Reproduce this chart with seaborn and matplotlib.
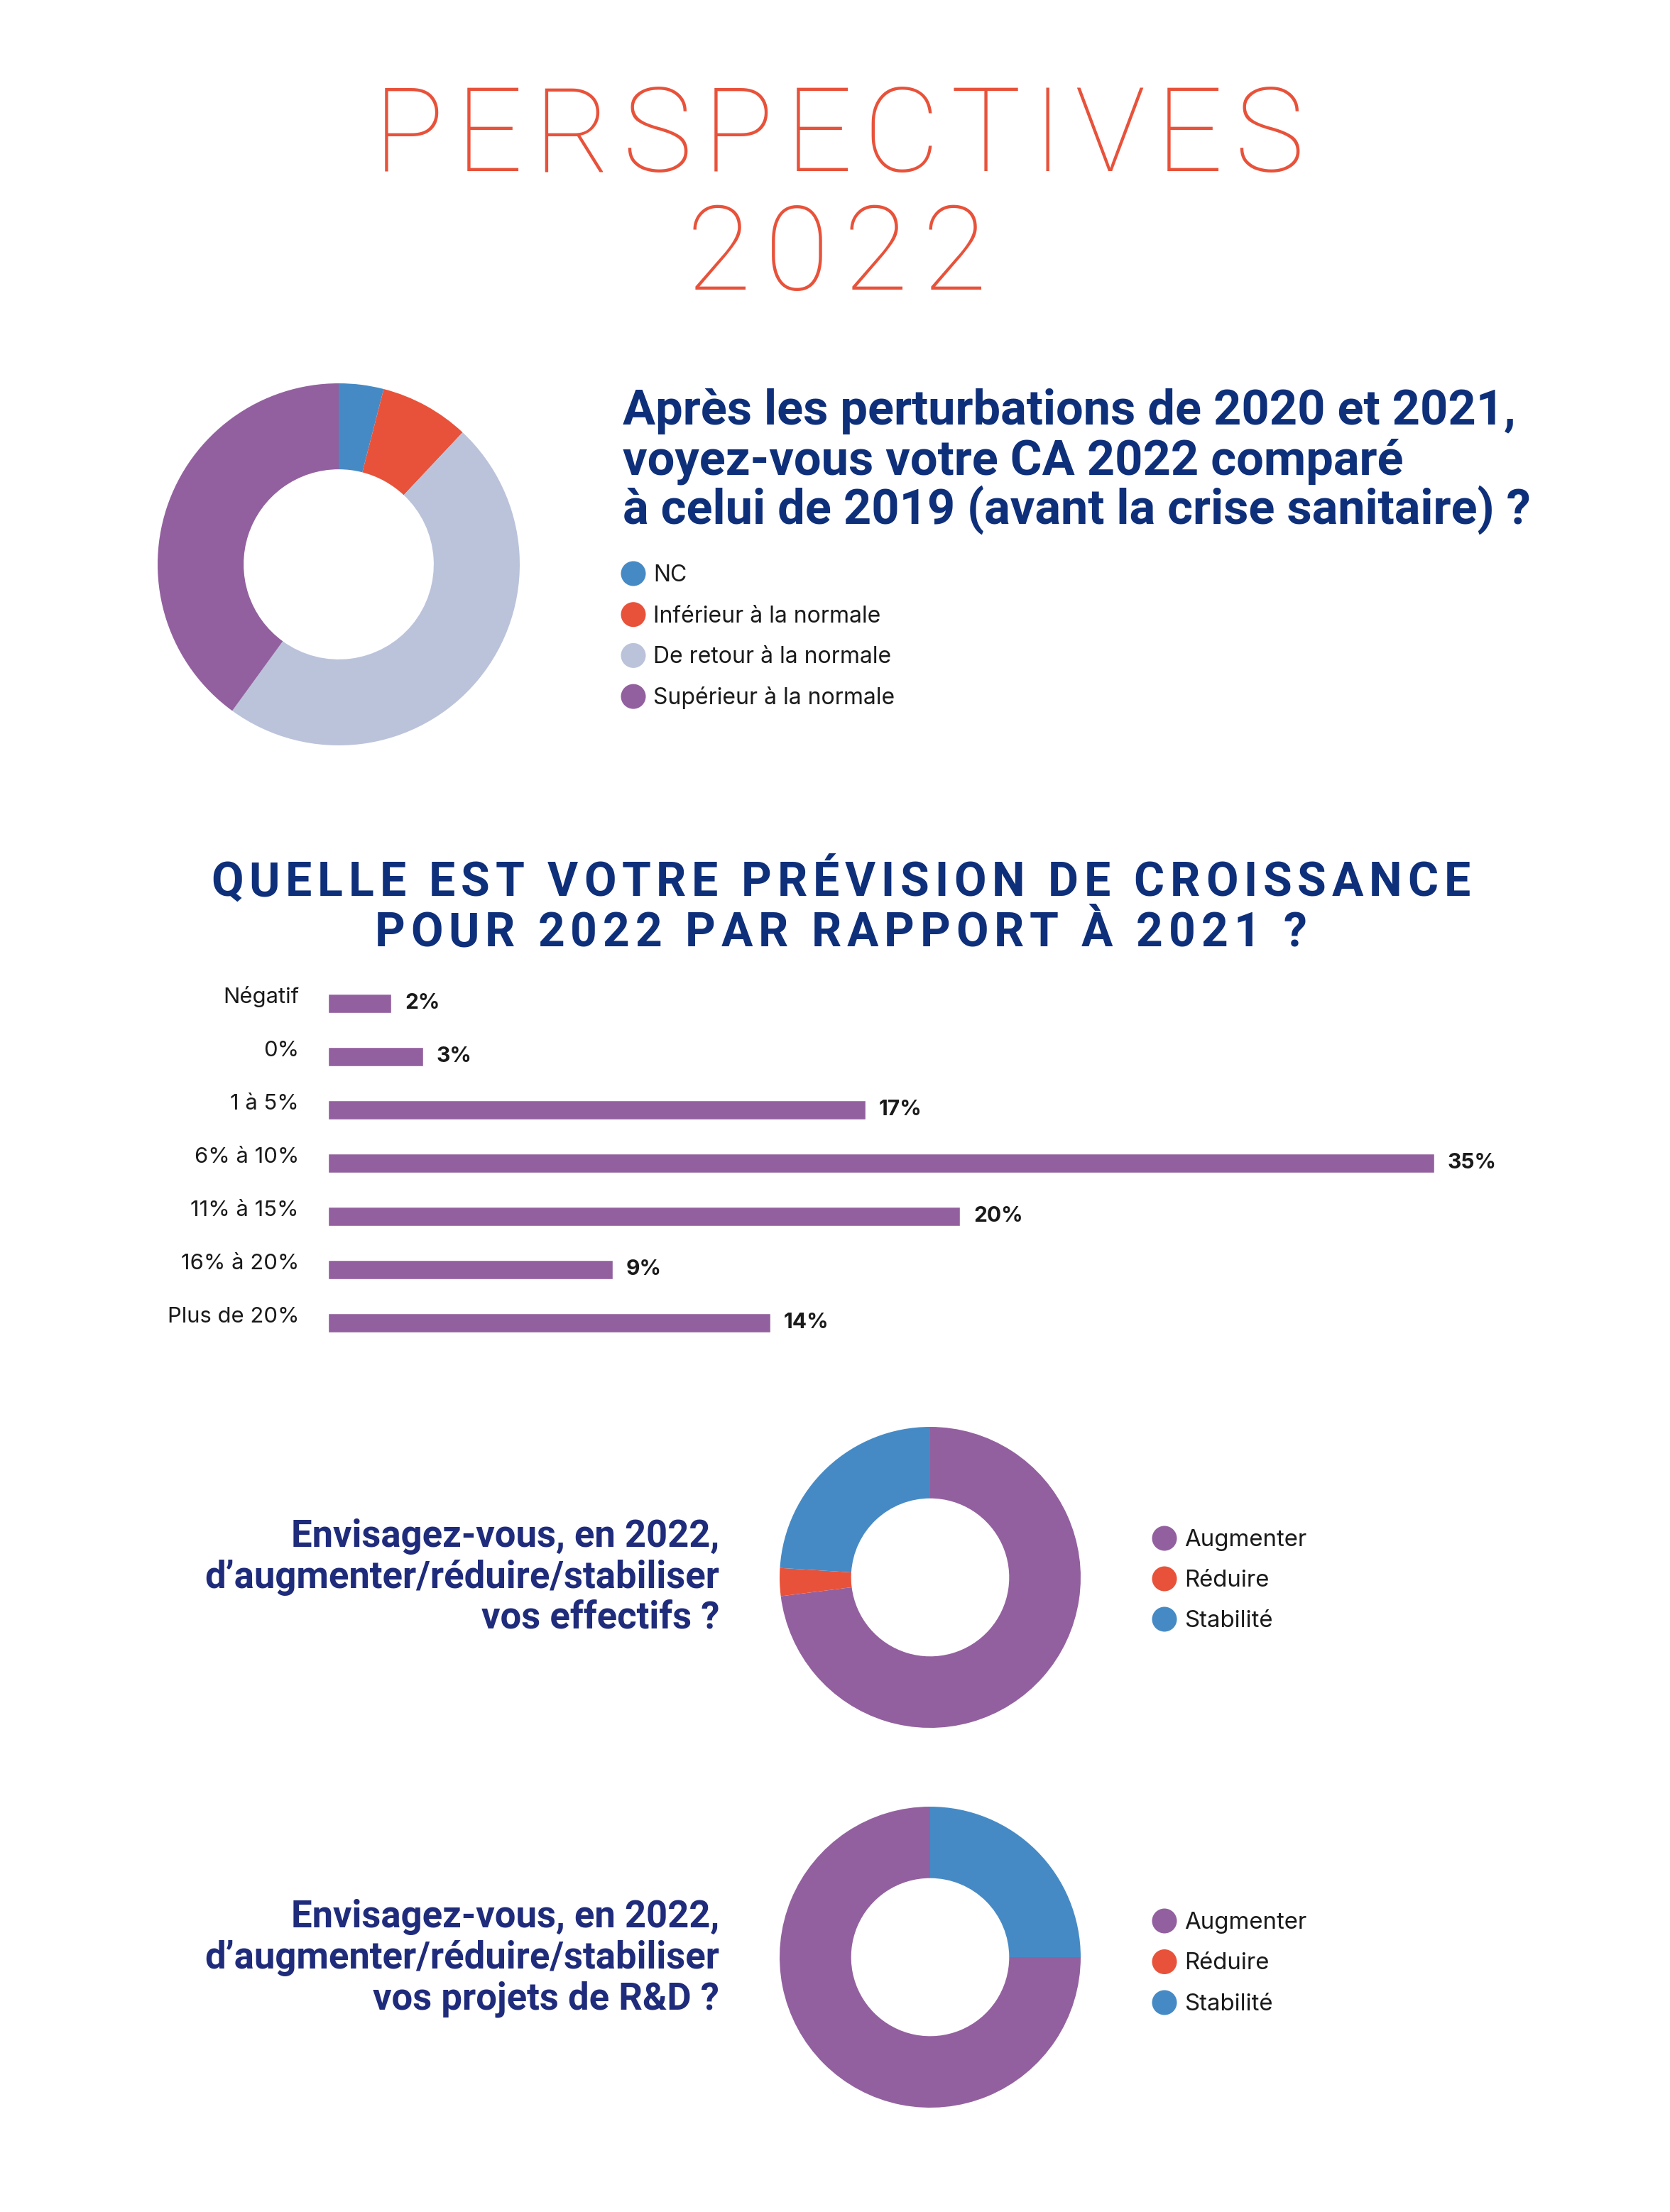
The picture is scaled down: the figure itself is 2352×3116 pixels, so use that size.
import matplotlib
matplotlib.use("Agg")
import matplotlib.pyplot as plt
import seaborn as sns
import pandas as pd
from matplotlib.patches import Circle
from matplotlib import font_manager as fm
from matplotlib.ft2font import FT2Font

# ---------------- data ----------------
title_lines = ["PERSPECTIVES", "2022"]

q1_lines = ["Après les perturbations de 2020 et 2021,",
            "voyez-vous votre CA 2022 comparé",
            "à celui de 2019 (avant la crise sanitaire) ?"]
ca_labels = ["NC", "Inférieur à la normale", "De retour à la normale", "Supérieur à la normale"]
ca_values = [4, 8, 48, 40]

growth_title = ["QUELLE EST VOTRE PRÉVISION DE CROISSANCE",
                "POUR 2022 PAR RAPPORT À 2021 ?"]
growth_cats = ["Négatif", "0%", "1 à 5%", "6% à 10%", "11% à 15%", "16% à 20%", "Plus de 20%"]
growth_vals = [2, 3, 17, 35, 20, 9, 14]

q2_lines = ["Envisagez-vous, en 2022,", "d’augmenter/réduire/stabiliser", "vos effectifs ?"]
q3_lines = ["Envisagez-vous, en 2022,", "d’augmenter/réduire/stabiliser", "vos projets de R&D ?"]
plan_labels = ["Augmenter", "Réduire", "Stabilité"]
staff_values = [73, 3, 24]
rd_values = [75, 0, 25]

# ---------------- style ----------------
PURPLE = "#93609F"
RED = "#E8523A"
BLUE = "#468AC5"
LAV = "#BBC3DB"
NAVY = "#0E2F7A"
NAVY2 = "#1F2B7B"
TXT = "#1A1A1A"

sns.set_theme(style="white")
plt.rcParams["font.family"] = ["Inter", "DejaVu Sans"]

W, H, DPI = 2352, 3116, 100
fig = plt.figure(figsize=(W / DPI, H / DPI), dpi=DPI)
fig.patch.set_facecolor("white")

bg = fig.add_axes([0, 0, 1, 1])
bg.set_xlim(0, W)
bg.set_ylim(H, 0)
bg.axis("off")


def rect(x0, y0, w, h):
    return [x0 / W, 1 - (y0 + h) / H, w / W, h / H]


def pt(px):
    return px * 72 / DPI


def advances(s, family, weight, size):
    fp = fm.FontProperties(family=family, weight=weight)
    f = FT2Font(fm.findfont(fp), hinting_factor=1)
    f.set_size(size, DPI)
    return [f.load_char(ord(c)).linearHoriAdvance / 65536 for c in s]


def spaced(s, cx, y, size, family, weight, color, target=None, sp=None):
    adv = advances(s, family, weight, size)
    if sp is None:
        sp = (target - sum(adv)) / (len(s) - 1)
    total = sum(adv) + sp * (len(s) - 1)
    x = cx - total / 2
    for c, a in zip(s, adv):
        bg.text(x + a / 2, y, c, ha="center", va="baseline", fontsize=size,
                family=family, fontweight=weight, color=color)
        x += a + sp
    return sp


# ---------------- title ----------------
spaced(title_lines[0], 1181, 241, pt(166), "Roboto", "light", RED, target=1310)
spaced(title_lines[1], 1178, 408, pt(166), "Roboto", "light", RED, target=423)

# ---------------- donut 1 ----------------
def donut(cx, cy, r, vals, colors, counterclock):
    ax = fig.add_axes(rect(cx - r, cy - r, 2 * r, 2 * r))
    ax.pie(vals, colors=colors, startangle=90, counterclock=counterclock, radius=1,
           wedgeprops=dict(width=0.475, linewidth=0))
    ax.set_xlim(-1, 1)
    ax.set_ylim(-1, 1)
    ax.set_aspect("equal")
    ax.axis("off")
    return ax

donut(477, 795, 255, ca_values, [BLUE, RED, LAV, PURPLE], False)

for i, line in enumerate(q1_lines):
    bg.text(877, 598 + 70 * i, line, ha="left", va="baseline", fontsize=pt(68.5),
            family="Roboto", fontweight="bold", color=NAVY)

def legend(x, y0, step, labels, colors, size):
    for i, (lab, col) in enumerate(zip(labels, colors)):
        y = y0 + step * i
        bg.add_patch(Circle((x, y), 17.5, color=col, lw=0))
        bg.text(x + 28, y + 11, lab, ha="left", va="baseline", fontsize=size,
                family="Inter", color=TXT)

legend(892, 808, 57.7, ca_labels, [BLUE, RED, LAV, PURPLE], pt(32))

# ---------------- growth bar chart ----------------
sp = spaced(growth_title[0], 1184, 1262, pt(66), "Roboto", "bold", NAVY, target=1774)
spaced(growth_title[1], 1184, 1333, pt(66), "Roboto", "bold", NAVY, sp=sp)

df = pd.DataFrame({"cat": growth_cats, "val": growth_vals})
axb = fig.add_axes(rect(462, 1375.5, 1780, 525))
sns.barplot(data=df, x="val", y="cat", orient="h", color=PURPLE, saturation=1,
            width=0.36, ax=axb)
axb.set_xlim(0, 40)
axb.set_ylim(6.5, -0.5)
axb.set_xlabel("")
axb.set_ylabel("")
axb.set_xticks([])
for s in axb.spines.values():
    s.set_visible(False)
axb.set_facecolor("none")
axb.tick_params(axis="y", length=0, pad=pt(41), labelsize=pt(31), labelcolor=TXT)
for lab in axb.get_yticklabels():
    lab.set_va("baseline")
    lab.set_family("Inter")
axb.bar_label(axb.containers[0], labels=[f"{v}%" for v in growth_vals], padding=pt(19),
              fontsize=pt(30), fontweight="bold", family="Inter", color=TXT)

# ---------------- donut 2 ----------------
donut(1310, 2222, 212, staff_values, [PURPLE, RED, BLUE], False)
for i, line in enumerate(q2_lines):
    bg.text(1013, 2179 + 57.5 * i, line, ha="right", va="baseline", fontsize=pt(52.5),
            family="Roboto", fontweight="bold", color=NAVY2)
legend(1640, 2167, 57, plan_labels, [PURPLE, RED, BLUE], pt(33))

# ---------------- donut 3 ----------------
donut(1310, 2757, 212, rd_values, [PURPLE, RED, BLUE], True)
for i, line in enumerate(q3_lines):
    bg.text(1013, 2715 + 57.5 * i, line, ha="right", va="baseline", fontsize=pt(52.5),
            family="Roboto", fontweight="bold", color=NAVY2)
legend(1640, 2706, 57.5, plan_labels, [PURPLE, RED, BLUE], pt(33))

fig.savefig("out.png", dpi=DPI, facecolor="white")
